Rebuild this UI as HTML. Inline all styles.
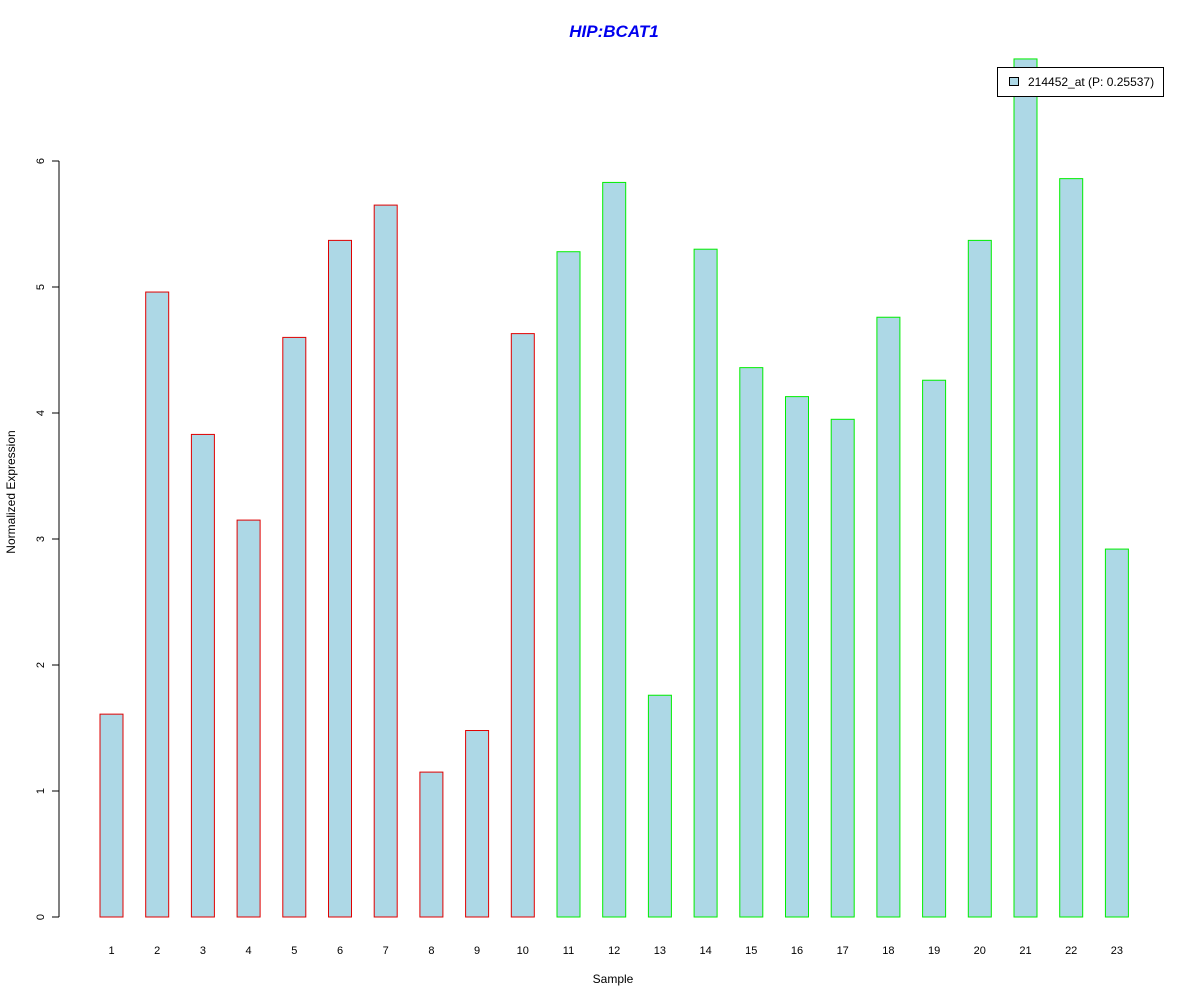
<!DOCTYPE html>
<html><head><meta charset="utf-8"><style>
body{margin:0;background:#fff}
svg text{font-family:"Liberation Sans",Arial,sans-serif}
</style></head><body>
<svg id="chart" width="1200" height="1000" xmlns="http://www.w3.org/2000/svg">
<rect width="1200" height="1000" fill="#fff"/>
<text x="614" y="37" text-anchor="middle" font-size="17" font-weight="bold" font-style="italic" fill="#0000ee">HIP:BCAT1</text>
<text x="613" y="983" text-anchor="middle" font-size="12">Sample</text>
<text transform="translate(15,492) rotate(-90)" text-anchor="middle" font-size="12">Normalized Expression</text>
<line x1="59" x2="59" y1="161" y2="917" stroke="#000"/>
<g id="yaxis"></g><g id="bars"></g><g id="xlabels"></g>
<g>
<rect x="997.5" y="67.5" width="166" height="29" fill="#fff" stroke="#000"/>
<rect x="1009.5" y="77.5" width="9" height="8" fill="#add8e6" stroke="#000"/>
<text x="1028" y="86" font-size="12">214452_at (P: 0.25537)</text>
</g>
</svg>
<script>
const categories=["1","2","3","4","5","6","7","8","9","10","11","12","13","14","15","16","17","18","19","20","21","22","23"];
const values=[1.61,4.96,3.83,3.15,4.60,5.37,5.65,1.15,1.48,4.63,5.28,5.83,1.76,5.30,4.36,4.13,3.95,4.76,4.26,5.37,6.81,5.86,2.92];
const groups=["red","red","red","red","red","red","red","red","red","red","green","green","green","green","green","green","green","green","green","green","green","green","green"];
const yTicks=[0,1,2,3,4,5,6];
const NS="http://www.w3.org/2000/svg";
const y=v=>917-v*126;
const x=i=>111.5+i*45.7;
const bars=document.getElementById('bars'),xl=document.getElementById('xlabels'),ya=document.getElementById('yaxis');
yTicks.forEach(t=>{
 const l=document.createElementNS(NS,'line');
 
 
 l.setAttribute('x1',52);l.setAttribute('x2',59);l.setAttribute('y1',y(t));l.setAttribute('y2',y(t));l.setAttribute('stroke','#000');ya.appendChild(l);
 const tx=document.createElementNS(NS,'text');
 
 
 tx.setAttribute('transform',`translate(44,${y(t)}) rotate(-90)`);tx.setAttribute('text-anchor','middle');tx.setAttribute('font-size','11');tx.textContent=t;ya.appendChild(tx);
});
values.forEach((v,i)=>{
 const r=document.createElementNS(NS,'rect');
 
 
 r.setAttribute('x',x(i)-11.5);r.setAttribute('width',23);r.setAttribute('y',y(v));r.setAttribute('height',v*126);
 r.setAttribute('fill','#add8e6');r.setAttribute('stroke',groups[i]==='red'?'#e00000':'#00ee00');bars.appendChild(r);
 const tx=document.createElementNS(NS,'text');
 
 
 tx.setAttribute('x',x(i));tx.setAttribute('y',954);tx.setAttribute('text-anchor','middle');tx.setAttribute('font-size','11');tx.textContent=categories[i];xl.appendChild(tx);
});
</script>
</body></html>
